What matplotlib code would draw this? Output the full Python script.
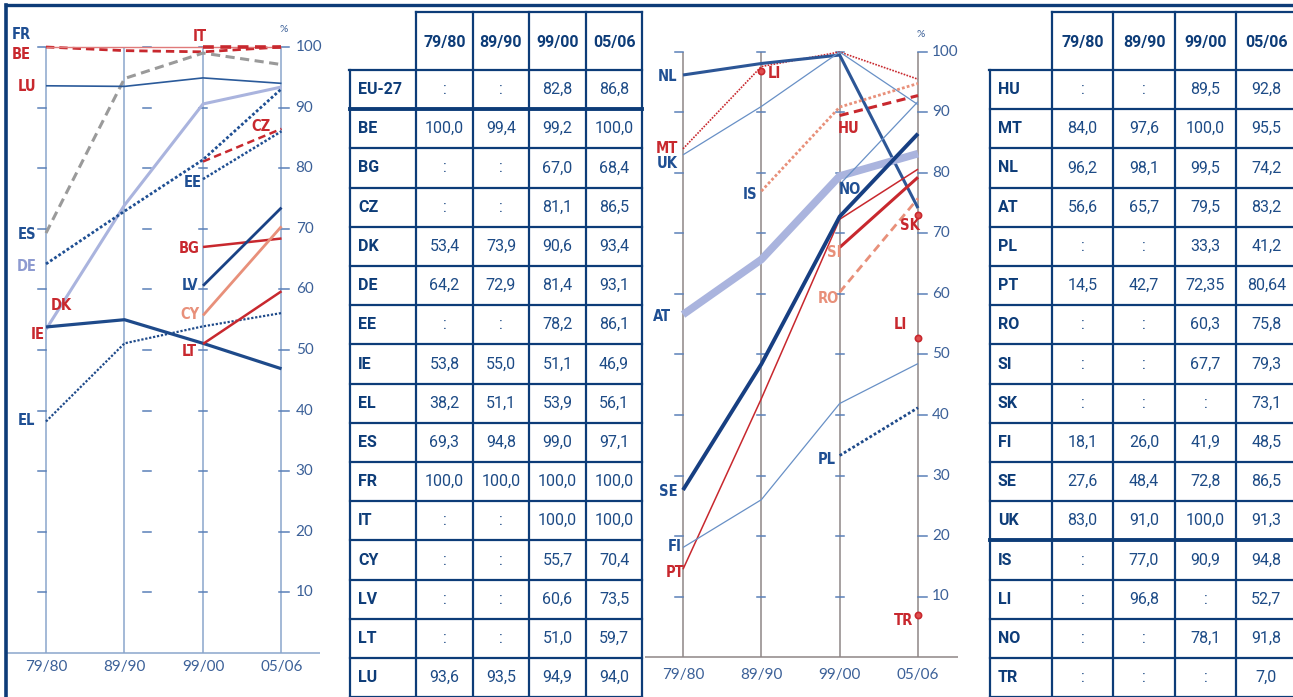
import matplotlib
matplotlib.use("Agg")
import matplotlib.pyplot as plt

W, H = 1293, 697

years = ["79/80", "89/90", "99/00", "05/06"]

# linke Tabelle / linkes Diagramm
countries1 = ["EU-27", "BE", "BG", "CZ", "DK", "DE", "EE", "IE", "EL", "ES",
              "FR", "IT", "CY", "LV", "LT", "LU"]
values1 = [
    [None, None, 82.8, 86.8],
    [100.0, 99.4, 99.2, 100.0],
    [None, None, 67.0, 68.4],
    [None, None, 81.1, 86.5],
    [53.4, 73.9, 90.6, 93.4],
    [64.2, 72.9, 81.4, 93.1],
    [None, None, 78.2, 86.1],
    [53.8, 55.0, 51.1, 46.9],
    [38.2, 51.1, 53.9, 56.1],
    [69.3, 94.8, 99.0, 97.1],
    [100.0, 100.0, 100.0, 100.0],
    [None, None, 100.0, 100.0],
    [None, None, 55.7, 70.4],
    [None, None, 60.6, 73.5],
    [None, None, 51.0, 59.7],
    [93.6, 93.5, 94.9, 94.0],
]

# rechte Tabelle / rechtes Diagramm
countries2 = ["HU", "MT", "NL", "AT", "PL", "PT", "RO", "SI", "SK", "FI",
              "SE", "UK", "IS", "LI", "NO", "TR"]
values2 = [
    [None, None, 89.5, 92.8],
    [84.0, 97.6, 100.0, 95.5],
    [96.2, 98.1, 99.5, 74.2],
    [56.6, 65.7, 79.5, 83.2],
    [None, None, 33.3, 41.2],
    [14.5, 42.7, 72.35, 80.64],
    [None, None, 60.3, 75.8],
    [None, None, 67.7, 79.3],
    [None, None, None, 73.1],
    [18.1, 26.0, 41.9, 48.5],
    [27.6, 48.4, 72.8, 86.5],
    [83.0, 91.0, 100.0, 91.3],
    [None, 77.0, 90.9, 94.8],
    [None, 96.8, None, 52.7],
    [None, None, 78.1, 91.8],
    [None, None, None, 7.0],
]

NAVY = "#0d3c78"
TXT = "#1d4b86"
RED = "#c8282e"
LRED = "#e07a7a"
SALMON = "#e8907a"
LAV = "#aab4de"
BLUE = "#1f4f93"
DBLUE = "#173f82"
LBLUE = "#6890c6"
GRAY = "#9a9a9a"
TICK = "#5a80b8"
LAB = "#3b6098"

DOT = (1.0, 0.8)
DASH = (3.0, 1.8)

# Stil: Farbe, Linienbreite, Strichmuster, Labelfarbe, Labelposition (idx, wert)
style1 = {
    "FR": (LRED, 1.0, None, BLUE, (-0.31, 102.0)),
    "BE": (RED, 2.0, DASH, RED, (-0.31, 98.8)),
    "IT": (RED, 2.6, DASH, RED, (1.96, 101.8)),
    "LU": ("#2a5a9a", 1.2, None, RED, (-0.24, 93.4)),
    "ES": (GRAY, 2.2, DASH, BLUE, (-0.24, 69.1)),
    "DE": (BLUE, 2.0, DOT, "#8d9ad0", (-0.24, 63.7)),
    "DK": (LAV, 2.2, None, RED, (0.19, 57.3)),
    "IE": ("#1e4a8a", 2.3, None, RED, (-0.11, 52.5)),
    "EL": ("#1e4a8a", 1.6, DOT, BLUE, (-0.25, 38.3)),
    "CZ": (RED, 1.8, DASH, RED, (2.74, 86.8)),
    "EE": (BLUE, 1.8, DOT, BLUE, (1.87, 77.6)),
    "BG": (RED, 1.8, None, RED, (1.83, 66.7)),
    "LV": ("#1a4285", 2.0, None, BLUE, (1.83, 60.6)),
    "CY": (SALMON, 2.0, None, SALMON, (1.83, 55.8)),
    "LT": (RED, 1.8, None, RED, (1.83, 49.7)),
}
style2 = {
    "AT": (LAV, 5.5, None, BLUE, (-0.27, 56.2)),
    "NL": ("#2c5696", 2.2, None, BLUE, (-0.20, 96.0)),
    "MT": (RED, 1.2, DOT, RED, (-0.20, 84.1)),
    "UK": (LBLUE, 0.9, None, BLUE, (-0.20, 81.5)),
    "IS": (SALMON, 2.0, DOT, BLUE, (0.85, 76.5)),
    "HU": (RED, 2.2, DASH, RED, (2.12, 87.4)),
    "NO": (LBLUE, 0.9, None, BLUE, (2.13, 77.2)),
    "SI": (RED, 2.2, None, SALMON, (1.93, 66.8)),
    "RO": (SALMON, 2.0, DASH, SALMON, (1.85, 59.2)),
    "SE": (DBLUE, 2.8, None, BLUE, (-0.19, 27.4)),
    "FI": (LBLUE, 0.9, None, BLUE, (-0.11, 18.2)),
    "PT": (RED, 1.1, None, RED, (-0.10, 14.0)),
    "PL": ("#1e4a8a", 2.0, DOT, BLUE, (1.84, 32.7)),
    "SK": (RED, 0, None, RED, (2.90, 71.4)),
    "TR": (RED, 0, None, RED, (2.82, 6.1)),
    "LI": (RED, 0, None, RED, (1.17, 96.4)),
}

lab_font = dict(family="DejaVu Sans", stretch="condensed", weight="bold", fontsize=10.5)

fig = plt.figure(figsize=(W / 100, H / 100), dpi=100)
fig.patch.set_facecolor("white")


def chart_axes(box, x0, x3, y0, y100):
    # box in Pixel (links, oben, rechts, unten); x0/x3 = Pixel der 1. und 4. Spalte
    l, t, r, b = box
    ax = fig.add_axes([l / W, 1 - b / H, (r - l) / W, (b - t) / H])
    dx = (x3 - x0) / 3
    dy = (y0 - y100) / 100
    ax.set_xlim((l - x0) / dx, (r - x0) / dx)
    ax.set_ylim((y0 - b) / dy, (y0 - t) / dy)
    ax.axis("off")
    return ax


def draw_chart(ax, countries, values, style, vcolor, ticks, xmin, xmax, ylab):
    ax.vlines(range(4), 0, 100, color=vcolor, lw=1.1, zorder=1)
    ax.hlines(0, xmin, xmax, color=vcolor, lw=1.1, zorder=1)
    for y in range(10, 101, 10):
        for a, b in ticks:
            ax.plot([a, b], [y, y], color=TICK, lw=1.1, zorder=1)
        ax.text(3.18, y, str(y), color=LAB, fontsize=11, family="Lato",
                ha="left", va="center")
    ax.text(3.03, 102.2, "%", color=LAB, fontsize=7.5, family="Lato",
            ha="center", va="bottom")
    for i, yr in enumerate(years):
        ax.text(i, ylab, yr, color=LAB, fontsize=11, family="Lato",
                ha="center", va="center")
    for name, row in zip(countries, values):
        if name not in style:
            continue
        col, lw, dash, lcol, (lx, ly) = style[name]
        pts = [(i, v) for i, v in enumerate(row) if v is not None]
        if lw > 0:
            xs = [p[0] for p in pts]
            ys = [p[1] for p in pts]
            line, = ax.plot(xs, ys, color=col, lw=lw, zorder=3,
                            solid_capstyle="butt", dash_capstyle="butt")
            if dash is not None:
                line.set_dashes(dash)
        else:
            for x, v in pts:
                ax.plot(x, v, "o", color=col, ms=4.5, mfc="#e05050",
                        mec=col, mew=1.2, zorder=4)
        ax.text(lx, ly, name, color=lcol, ha="center", va="center", **lab_font)


# linkes Diagramm
axl = chart_axes((6, 5, 345, 697), 46, 281.5, 653, 47)
ticks_l = [(-0.10, 0.0), (1.24, 1.34), (1.95, 2.05), (2.97, 3.09)]
draw_chart(axl, countries1, values1, style1, "#8aa5cb", ticks_l, -0.52, 3.49, -2.3)

# rechtes Diagramm
axr = chart_axes((645, 5, 985, 697), 683, 918, 657, 52)
ticks_r = [(-0.10, 0.0), (0.95, 1.05), (1.95, 2.05), (3.0, 3.11)]
draw_chart(axr, countries2, values2, style2, "#8e8686", ticks_r, -0.49, 3.51, -3.0)
# LI hat zwei Werte -> zweites Label am 05/06-Punkt
axr.text(2.77, 54.9, "LI", color=RED, ha="center", va="center", **lab_font)

# Tabellen und Rahmen in Pixelkoordinaten
ov = fig.add_axes([0, 0, 1, 1])
ov.set_xlim(0, W)
ov.set_ylim(H, 0)
ov.axis("off")
ov.patch.set_alpha(0)

ov.plot([6, W], [5, 5], color=NAVY, lw=2.4)
ov.plot([6, 6], [5, H], color=NAVY, lw=2.6)


def fmt(v):
    if v is None:
        return ":"
    s = "{:.2f}".format(v) if round(v, 1) != v else "{:.1f}".format(v)
    return s.replace(".", ",")


def draw_table(edges, countries, values, thick_after):
    top, head, rh = 12, 70, 39.2
    bottom = head + rh * len(countries)
    ov.plot([edges[1], edges[-1]], [top, top], color=NAVY, lw=1.6)
    for k, x in enumerate(edges):
        y_start = top if k > 0 else head
        ov.plot([x, x], [y_start, bottom], color=NAVY, lw=1.6)
    ov.plot([edges[0] - 1, edges[-1]], [head, head], color=NAVY, lw=1.6)
    for j, yr in enumerate(years):
        ov.text((edges[j + 1] + edges[j + 2]) / 2, (top + head) / 2 + 1, yr,
                color=NAVY, fontsize=11.5, family="Roboto", weight="bold",
                ha="center", va="center")
    for i, (name, row) in enumerate(zip(countries, values)):
        y0 = head + i * rh
        yc = y0 + rh / 2
        lw = 2.8 if i == thick_after else 1.6
        ov.plot([edges[0], edges[-1]], [y0 + rh, y0 + rh], color=NAVY, lw=lw)
        ov.text(edges[0] + 8, yc, name, color=NAVY, fontsize=11.5,
                family="Roboto", weight="bold", ha="left", va="center")
        for j, v in enumerate(row):
            ov.text((edges[j + 1] + edges[j + 2]) / 2, yc, fmt(v), color=TXT,
                    fontsize=11.5, family="Roboto", ha="center", va="center")


draw_table([350, 416, 473, 529, 586, 642], countries1, values1, 0)
draw_table([990, 1052, 1113, 1175, 1236, 1297], countries2, values2, 11)

fig.savefig("out.png", dpi=100, facecolor="white")
plt.close()
